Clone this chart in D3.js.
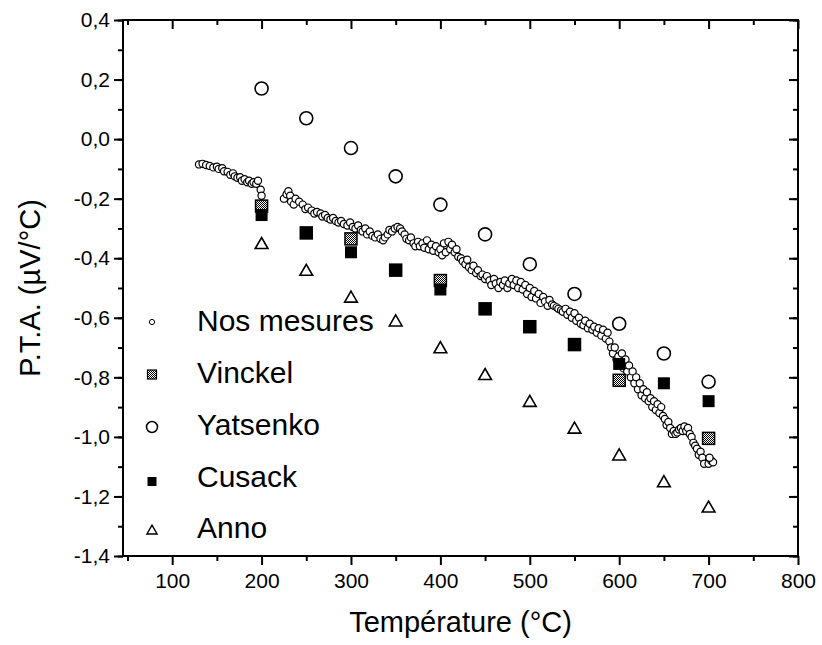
<!DOCTYPE html>
<html><head><meta charset="utf-8">
<script src="https://cdn.jsdelivr.net/npm/d3@7"></script>
<style>body{margin:0;background:#fff}svg{display:block}text{font-family:"Liberation Sans",Arial,sans-serif;fill:#000}</style>
</head><body><svg id="c" width="822" height="645"></svg>
<script>
const xTicks=[100,200,300,400,500,600,700,800];
const yTicks=[0.4,0.2,0.0,-0.2,-0.4,-0.6,-0.8,-1.0,-1.2,-1.4];
const seriesNames=["Nos mesures","Vinckel","Yatsenko","Cusack","Anno"];
const measX=[130,134,138,142,146,150,152,156,158,162,165,168,170,173,176,178,181,184,186,189,191,194,196,199,200,
225,228,230,232,233,236,238,242,246,249,252,256,259,262,266,268,271,274,277,280,283,286,289,292,296,299,302,305,308,311,313,316,318,321,324,327,330,333,336,338,341,343,346,349,352,355,357,360,362,365,367,370,372,375,377,380,382,385,387,390,392,395,398,400,402,404,406,409,411,413,416,418,420,423,425,428,430,432,435,437,440,442,445,447,450,452,455,457,460,462,465,467,470,472,475,477,480,482,485,487,490,492,495,497,500,502,505,507,510,512,515,517,520,522,525,527,530,532,535,537,540,542,545,547,550,552,555,557,560,562,565,567,570,572,575,577,580,582,585,587,589,591,593,595,597,599,601,603,605,607,609,611,613,615,617,619,621,623,625,627,629,631,633,635,637,639,641,643,645,647,649,651,653,655,657,659,661,663,665,667,669,671,673,675,677,679,681,683,685,687,689,691,693,695,700,703,705,701];
const measY=[-0.085,-0.083,-0.087,-0.09,-0.095,-0.093,-0.10,-0.098,-0.108,-0.11,-0.12,-0.115,-0.125,-0.13,-0.128,-0.14,-0.135,-0.145,-0.14,-0.15,-0.145,-0.15,-0.14,-0.17,-0.19,
-0.20,-0.185,-0.175,-0.19,-0.21,-0.22,-0.20,-0.21,-0.22,-0.235,-0.23,-0.24,-0.25,-0.245,-0.25,-0.26,-0.255,-0.265,-0.27,-0.265,-0.275,-0.28,-0.275,-0.285,-0.29,-0.28,-0.295,-0.30,-0.29,-0.305,-0.31,-0.30,-0.32,-0.31,-0.325,-0.33,-0.32,-0.335,-0.34,-0.33,-0.32,-0.305,-0.31,-0.30,-0.295,-0.30,-0.31,-0.32,-0.335,-0.34,-0.33,-0.35,-0.36,-0.345,-0.36,-0.35,-0.365,-0.34,-0.37,-0.355,-0.375,-0.36,-0.38,-0.37,-0.39,-0.35,-0.38,-0.345,-0.37,-0.355,-0.38,-0.37,-0.395,-0.40,-0.41,-0.42,-0.405,-0.43,-0.44,-0.425,-0.45,-0.44,-0.46,-0.455,-0.47,-0.46,-0.475,-0.49,-0.47,-0.485,-0.50,-0.48,-0.49,-0.475,-0.50,-0.485,-0.47,-0.49,-0.475,-0.50,-0.48,-0.505,-0.49,-0.52,-0.50,-0.53,-0.51,-0.535,-0.52,-0.55,-0.53,-0.545,-0.56,-0.54,-0.555,-0.56,-0.565,-0.57,-0.575,-0.58,-0.57,-0.59,-0.58,-0.60,-0.585,-0.61,-0.60,-0.62,-0.625,-0.61,-0.635,-0.62,-0.64,-0.63,-0.65,-0.635,-0.66,-0.64,-0.67,-0.65,-0.68,-0.70,-0.72,-0.70,-0.74,-0.73,-0.75,-0.72,-0.77,-0.74,-0.78,-0.76,-0.80,-0.78,-0.82,-0.80,-0.84,-0.82,-0.86,-0.84,-0.87,-0.85,-0.88,-0.87,-0.90,-0.88,-0.91,-0.89,-0.92,-0.90,-0.93,-0.94,-0.96,-0.95,-0.97,-0.99,-0.98,-0.99,-0.985,-0.975,-0.97,-0.98,-0.965,-0.98,-0.97,-0.99,-1.00,-1.02,-1.03,-1.04,-1.06,-1.05,-1.07,-1.09,-1.09,-1.08,-1.085,-1.07];
const refX=[200,250,300,350,400,450,500,550,600,650,700];
const yatsenkoY=[0.17,0.07,-0.03,-0.125,-0.22,-0.32,-0.42,-0.52,-0.62,-0.72,-0.815];
const vinckelX=[200,250,300,350,400,450,500,550,600,700];
const vinckelY=[-0.225,-0.315,-0.335,-0.44,-0.475,-0.57,-0.63,-0.69,-0.81,-1.005];
const cusackY=[-0.255,-0.315,-0.38,-0.44,-0.505,-0.57,-0.63,-0.69,-0.755,-0.82,-0.88];
const annoY=[-0.35,-0.44,-0.53,-0.61,-0.70,-0.79,-0.88,-0.97,-1.06,-1.15,-1.235];

const svg=d3.select("#c");
const L=123,R=798,T=20,B=556;
const x=d3.scaleLinear().domain([45,800]).range([L,R]);
const y=d3.scaleLinear().domain([-1.4,0.4]).range([B,T]);
const fmt=d=>d3.format(".1f")(d).replace(".",",").replace("−","-");

const defs=svg.append("defs");
const pat=defs.append("pattern").attr("id","hatch").attr("width",2).attr("height",2).attr("patternUnits","userSpaceOnUse");
pat.append("rect").attr("width",2).attr("height",2).attr("fill","#fff");
pat.append("rect").attr("width",1).attr("height",1).attr("fill","#000");
pat.append("rect").attr("x",1).attr("y",1).attr("width",1).attr("height",1).attr("fill","#000");

const minorX=d3.range(50,801,50), minorY=d3.range(-1.4,0.41,0.1);
const gxB=svg.append("g").attr("transform",`translate(0,${B})`).call(d3.axisBottom(x).tickValues(xTicks).tickSize(9).tickFormat(d=>d));
svg.append("g").attr("transform",`translate(0,${B})`).call(d3.axisBottom(x).tickValues(minorX.filter(v=>v%100)).tickSize(5).tickFormat(""));
const gyL=svg.append("g").attr("transform",`translate(${L},0)`).call(d3.axisLeft(y).tickValues(yTicks).tickSize(9).tickFormat(fmt));
svg.append("g").attr("transform",`translate(${L},0)`).call(d3.axisLeft(y).tickValues(minorY).tickSize(5).tickFormat(""));
svg.append("g").attr("transform",`translate(0,${T})`).call(d3.axisBottom(x).tickValues(xTicks).tickSize(9).tickFormat(""));
svg.append("g").attr("transform",`translate(0,${T})`).call(d3.axisBottom(x).tickValues(minorX.filter(v=>v%100)).tickSize(5).tickFormat(""));
svg.append("g").attr("transform",`translate(${R},0)`).call(d3.axisLeft(y).tickValues(yTicks).tickSize(9).tickFormat(""));
svg.append("g").attr("transform",`translate(${R},0)`).call(d3.axisLeft(y).tickValues(minorY).tickSize(5).tickFormat(""));
svg.selectAll(".domain").remove();
svg.selectAll(".tick line").attr("stroke","#000").attr("stroke-width",2);
svg.selectAll(".tick text").attr("font-size",21).attr("font-family","Liberation Sans, Arial");
gxB.selectAll(".tick text").attr("dy","0.95em");
gyL.selectAll(".tick text").attr("dx","-0.05em");
svg.append("rect").attr("x",L).attr("y",T).attr("width",R-L).attr("height",B-T).attr("fill","none").attr("stroke","#000").attr("stroke-width",2);

svg.append("text").attr("x",(L+R)/2).attr("y",632).attr("text-anchor","middle").attr("font-size",29).text("Température (°C)");
svg.append("text").attr("transform",`translate(40,${(T+B)/2}) rotate(-90)`).attr("text-anchor","middle").attr("font-size",29).text("P.T.A. (µV/°C)");

const g=svg.append("g");
const tri=d3.symbol().type(d3.symbolTriangle);
g.selectAll(".m").data(measX.map((v,i)=>[v,measY[i]])).join("circle")
 .attr("cx",d=>x(d[0])).attr("cy",d=>y(d[1])).attr("r",3.6).attr("fill","#fff").attr("stroke","#000").attr("stroke-width",1.2);
g.selectAll(".yat").data(refX.map((v,i)=>[v,yatsenkoY[i]])).join("circle")
 .attr("cx",d=>x(d[0])).attr("cy",d=>y(d[1])).attr("r",6.5).attr("fill","none").attr("stroke","#000").attr("stroke-width",1.6);
g.selectAll(".vin").data(vinckelX.map((v,i)=>[v,vinckelY[i]])).join("rect")
 .attr("x",d=>x(d[0])-6).attr("y",d=>y(d[1])-6).attr("width",12).attr("height",12).attr("fill","url(#hatch)").attr("stroke","#000").attr("stroke-width",1.5);
g.selectAll(".cus").data(refX.map((v,i)=>[v,cusackY[i]])).join("rect")
 .attr("x",d=>x(d[0])-6).attr("y",d=>y(d[1])-6).attr("width",12).attr("height",12).attr("fill","#000");
g.selectAll(".ann").data(refX.map((v,i)=>[v,annoY[i]])).join("path")
 .attr("d",tri.size(70)).attr("transform",d=>`translate(${x(d[0])},${y(d[1])+1.5})`).attr("fill","#fff").attr("stroke","#000").attr("stroke-width",1.6);

const lg=svg.append("g");
const ly=[320,372,424,476,527], lx=152;
seriesNames.forEach((n,i)=>{
  lg.append("text").attr("x",197).attr("y",ly[i]).attr("dy","0.36em").attr("font-size",30).text(n);
});
lg.append("circle").attr("cx",lx).attr("cy",ly[0]+2).attr("r",2.6).attr("fill","#fff").attr("stroke","#000").attr("stroke-width",1);
lg.append("rect").attr("x",lx-4.5).attr("y",ly[1]-2).attr("width",9).attr("height",9).attr("fill","url(#hatch)").attr("stroke","#000").attr("stroke-width",1.2);
lg.append("circle").attr("cx",lx).attr("cy",ly[2]+3).attr("r",5.5).attr("fill","none").attr("stroke","#000").attr("stroke-width",1.5);
lg.append("rect").attr("x",lx-4.5).attr("y",ly[3]+1).attr("width",9).attr("height",9).attr("fill","#000");
lg.append("path").attr("d",tri.size(45)).attr("transform",`translate(${lx},${ly[4]+4})`).attr("fill","#fff").attr("stroke","#000").attr("stroke-width",1.4);
</script></body></html>
